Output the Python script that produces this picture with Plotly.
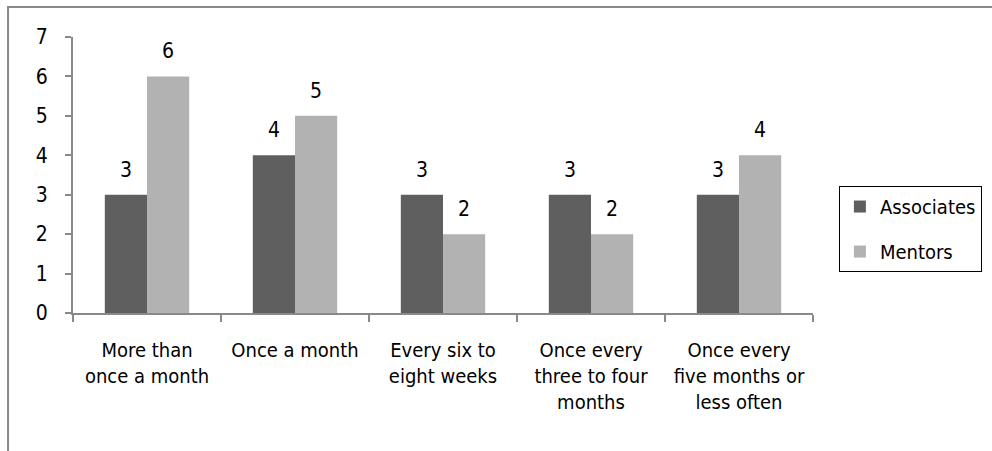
import plotly.graph_objects as go

categories = [
    "More than<br>once a month",
    "Once a month",
    "Every six to<br>eight weeks",
    "Once every<br>three to four<br>months",
    "Once every<br>five months or<br>less often",
]
associates = [3, 4, 3, 3, 3]
mentors = [6, 5, 2, 2, 4]

FONT = "DejaVu Sans Condensed, Liberation Sans Narrow, Arial Narrow, sans-serif"
SIZE = 21
DARK = "#5f5f5f"
LIGHT = "#b2b2b2"
AXIS = "#898989"

fig = go.Figure()
fig.add_trace(go.Bar(x=categories, y=associates, name="Associates",
                     marker=dict(color=DARK, line=dict(width=0)),
                     legendgroup="a"))
fig.add_trace(go.Bar(x=categories, y=mentors, name="Mentors",
                     marker=dict(color=LIGHT, line=dict(width=0)),
                     legendgroup="m"))

# value labels above each bar
annotations = []
for series, shift in ((associates, -21), (mentors, 21)):
    for cat, val in zip(categories, series):
        annotations.append(dict(x=cat, y=val, xref="x", yref="y", text=str(val),
                                showarrow=False, xshift=shift, yshift=11,
                                yanchor="bottom", font=dict(size=SIZE, color="black", family=FONT)))

fig.update_layout(
    width=992, height=451,
    margin=dict(l=73, r=179, t=37, b=138, autoexpand=False),
    paper_bgcolor="white", plot_bgcolor="white",
    font=dict(family=FONT, size=SIZE, color="black"),
    barmode="group", bargap=0.43, bargroupgap=0,
    showlegend=True,
    legend=dict(x=1.035, y=0.46, xanchor="left", yanchor="top",
                bordercolor="black", borderwidth=1, tracegroupgap=16,
                font=dict(size=20, family=FONT)),
    annotations=annotations,
    shapes=[dict(type="rect", xref="paper", yref="paper",
                 x0=-0.0878, x1=1.4, y0=-0.7, y1=1.1087,
                 line=dict(color=AXIS, width=2), layer="below")],
)
fig.update_xaxes(showline=True, linecolor=AXIS, linewidth=2,
                 ticks="outside", tickson="boundaries", ticklen=7,
                 tickcolor=AXIS, tickwidth=2, showgrid=False,
                 tickfont=dict(size=20),
                 tickangle=0, automargin=False, ticklabelstandoff=18)
fig.update_yaxes(range=[0, 7], dtick=1, showline=True, linecolor=AXIS, linewidth=2,
                 ticks="outside", ticklen=6, tickcolor=AXIS, tickwidth=2,
                 showgrid=False, zeroline=False, automargin=False, ticklabelstandoff=13)

fig.write_html("out.html")
